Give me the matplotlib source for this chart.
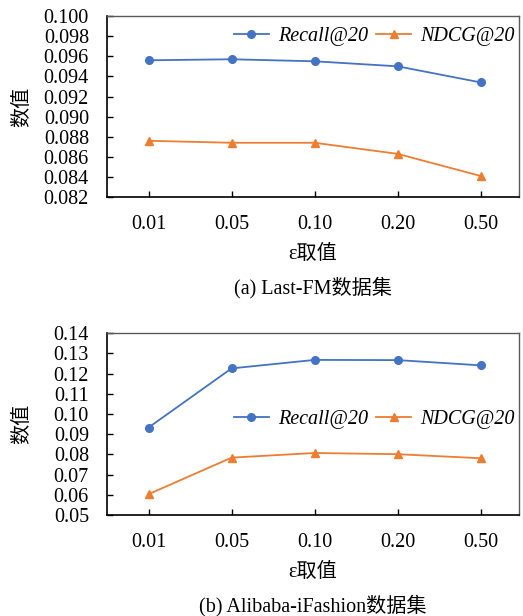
import matplotlib
matplotlib.use("Agg")
import matplotlib.pyplot as plt

# x categories (epsilon values)
eps_labels = ["0.01", "0.05", "0.10", "0.20", "0.50"]

# (a) Last-FM
lastfm_recall = [0.0956, 0.0957, 0.0955, 0.0950, 0.0934]
lastfm_ndcg = [0.0876, 0.0874, 0.0874, 0.0863, 0.0841]
lastfm_yticks = [0.082, 0.084, 0.086, 0.088, 0.090, 0.092, 0.094, 0.096, 0.098, 0.100]

# (b) Alibaba-iFashion
ali_recall = [0.0933, 0.1226, 0.1268, 0.1267, 0.1241]
ali_ndcg = [0.0603, 0.0784, 0.0807, 0.0801, 0.0781]
ali_yticks = [0.05, 0.06, 0.07, 0.08, 0.09, 0.10, 0.11, 0.12, 0.13, 0.14]

FONT = ["Liberation Serif", "Noto Sans CJK SC"]
BLUE = "#4472C4"
ORANGE = "#ED7D31"
FS = 14.5

plt.rcParams["font.family"] = FONT

fig = plt.figure(figsize=(5.23, 6.16), dpi=100)


def draw_panel(ax, recall, ndcg, yticks, yfmt, legend_y, caption):
    x = range(len(eps_labels))
    ax.plot(x, recall, color=BLUE, marker="o", markersize=5.5, linewidth=1.3,
            label="Recall@20")
    ax.plot(x, ndcg, color=ORANGE, marker="^", markersize=5.5, linewidth=1.3,
            label="NDCG@20")
    ax.set_xlim(-0.5, 4.46)
    ax.set_ylim(yticks[0], yticks[-1])
    ax.set_xticks(list(x))
    ax.set_xticklabels(eps_labels, fontsize=FS)
    ax.set_yticks(yticks)
    ax.set_yticklabels([yfmt.format(v) for v in yticks], fontsize=FS)
    ax.tick_params(axis="both", direction="in", length=4, width=1, colors="black")
    ax.tick_params(axis="x", pad=13)
    ax.tick_params(axis="y", pad=13)
    for side in ("left", "bottom"):
        ax.spines[side].set_color("black")
        ax.spines[side].set_linewidth(1.2)
    for side in ("top", "right"):
        ax.spines[side].set_color("#5a5a5a")
        ax.spines[side].set_linewidth(1.0)
    ax.set_ylabel("数值", fontsize=FS)
    ax.yaxis.set_label_coords(-0.182, 0.5)
    ax.set_xlabel("ε取值", fontsize=FS, labelpad=8)
    leg = ax.legend(loc="center right", bbox_to_anchor=(1.0, legend_y), ncol=2,
                    frameon=False, fontsize=FS, handlelength=1.75,
                    columnspacing=0.4, handletextpad=0.45, borderaxespad=0.0,
                    borderpad=0.2)
    for t in leg.get_texts():
        t.set_fontstyle("italic")
    ax.text(0.5, -0.44, caption, transform=ax.transAxes,
            ha="center", va="top", fontsize=FS)
    return ax


ax1 = fig.add_axes([0.2046, 0.680, 0.7876, 0.294])
draw_panel(ax1, lastfm_recall, lastfm_ndcg, lastfm_yticks, "{:.3f}", 0.885,
           "(a) Last-FM数据集")

ax2 = fig.add_axes([0.2046, 0.164, 0.7876, 0.295])
draw_panel(ax2, ali_recall, ali_ndcg, ali_yticks, "{:.2f}", 0.527,
           "(b) Alibaba-iFashion数据集")

fig.savefig("out.png", dpi=100)
